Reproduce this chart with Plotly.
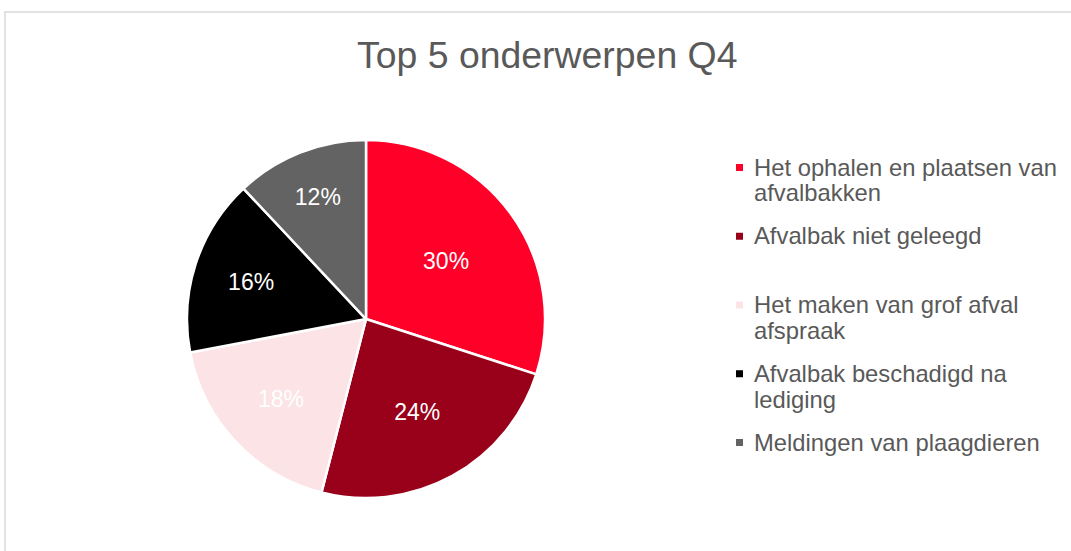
import plotly.graph_objects as go

labels = [
    "Het ophalen en plaatsen van<br>afvalbakken",
    "Afvalbak niet geleegd",
    "Het maken van grof afval<br>afspraak",
    "Afvalbak beschadigd na<br>lediging",
    "Meldingen van plaagdieren",
]
values = [30, 24, 18, 16, 12]
colors = ["#FF0029", "#990019", "#FBE3E6", "#000000", "#636363"]

W, H = 1071, 551
FONT = "Liberation Sans, Arial"
TEXT_GREY = "#595959"

fig = go.Figure(go.Pie(
    labels=labels,
    values=values,
    sort=False,
    direction="clockwise",
    rotation=0,
    marker=dict(colors=colors, line=dict(color="white", width=2.5)),
    textinfo="percent",
    texttemplate="%{percent:.0%}",
    textposition="inside",
    insidetextorientation="horizontal",
    textfont=dict(family=FONT, size=23, color="white"),
    domain=dict(x=[0.1746, 0.5089], y=[0.096, 0.746]),
    hoverinfo="label+percent",
    showlegend=False,
))

# Custom legend (Excel-style: uniform slot per entry, small square markers)
leg_text_x = 752      # px
leg_marker_x = 736    # px
leg_first_y = 167     # px, centre of first line
leg_slot = 68.75      # px between entries
leg_line = 26         # px between wrapped lines
marker_size = 7

annotations = []
shapes = []
for i, (lab, col) in enumerate(zip(labels, colors)):
    y0 = leg_first_y + i * leg_slot
    for j, line in enumerate(lab.split("<br>")):
        yy = y0 + j * leg_line
        annotations.append(dict(
            text=line, xref="paper", yref="paper",
            x=leg_text_x / W, y=1 - yy / H, xanchor="left", yanchor="middle",
            showarrow=False, font=dict(family=FONT, size=23.8, color=TEXT_GREY),
        ))
    shapes.append(dict(
        type="rect", xref="paper", yref="paper",
        x0=leg_marker_x / W, x1=(leg_marker_x + marker_size) / W,
        y0=1 - (y0 + 0.5 + marker_size / 2) / H, y1=1 - (y0 + 0.5 - marker_size / 2) / H,
        fillcolor=col, line=dict(width=0),
    ))

# chart frame (light grey border, cut off at right/bottom)
shapes.append(dict(type="rect", xref="paper", yref="paper",
                   x0=5 / W, x1=1.02, y0=-0.05, y1=1 - 12 / H,
                   line=dict(color="#D9D9D9", width=1.5), fillcolor="rgba(0,0,0,0)",
                   layer="below"))

fig.update_layout(
    width=W, height=H,
    margin=dict(l=0, r=0, t=0, b=0),
    paper_bgcolor="white",
    plot_bgcolor="white",
    font=dict(family=FONT, color=TEXT_GREY),
    title=dict(text="Top 5 onderwerpen Q4", x=0.511, xanchor="center",
               y=0.9, yanchor="middle",
               font=dict(family=FONT, size=37.4, color=TEXT_GREY)),
    showlegend=False,
    annotations=annotations,
    shapes=shapes,
)

fig.write_html("out.html", config={"displayModeBar": False},
               post_script="document.body.style.margin='0';")
